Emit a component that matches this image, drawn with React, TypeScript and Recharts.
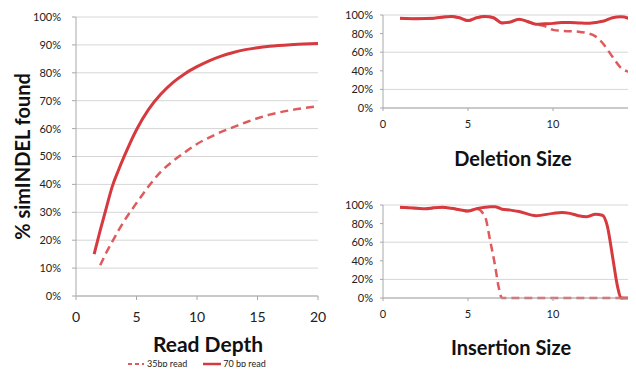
import React from 'react';
import { LineChart, Line, XAxis, YAxis, CartesianGrid, Legend } from 'recharts';

const seriesNames = ['35bp read', '70 bp read'];

const depthX = [1.5, 2, 2.5, 3, 3.5, 4, 5, 6, 7, 8, 9, 10, 11, 12, 13, 14, 15, 16, 18, 20];
const depth35 = [null, 11, 15.5, 19.5, 23.4, 27, 33.3, 39.3, 44.5, 48.3, 51.5, 54.5, 56.8, 58.8, 60.5, 62.2, 63.7, 65, 66.8, 68];
const depth70 = [15, 23.5, 31.5, 39.3, 45, 50.2, 59.6, 66.9, 72.3, 76.5, 79.7, 82.2, 84.3, 86, 87.3, 88.3, 89, 89.5, 90.1, 90.5];

const delX = [1, 2, 3, 4, 4.5, 5, 5.5, 6, 6.5, 7, 7.5, 8, 8.5, 9, 9.5, 10, 10.5, 11, 11.5, 12, 12.5, 13, 13.5, 14, 14.5, 15, 15.5, 16];
const del70 = [96.5, 96, 96.5, 98.5, 97, 94, 97, 98.5, 97, 91.5, 92.5, 95.5, 93, 90, 90.5, 91, 92, 92, 91.5, 91, 92, 93.5, 97, 98, 96, 91, 88, 87];
const del35 = [96.5, 96, 96.5, 98.5, 97, 94, 97, 98.5, 97, 91.5, 92.5, 95.5, 93, 90, 88, 84, 83, 82.5, 82, 80.5, 77, 68, 55, 43, 38.5, 34, 31, 29];

const insX = [1, 2, 2.5, 3, 3.5, 4, 4.5, 5, 5.5, 6, 6.3, 6.6, 6.8, 7, 7.5, 8, 9, 10, 10.5, 11, 11.5, 12, 12.5, 12.9, 13.2, 13.5, 13.8, 14, 15, 16];
const ins70 = [97.5, 96.5, 96, 97, 97.5, 96.5, 95, 93.5, 96, 97.5, 98, 98, 97, 95.5, 94.5, 93, 88.5, 91, 92, 91, 88.5, 87.5, 90, 89, 77, 45, 12, 0, 0, 0];
const ins35 = [97.5, 96.5, 96, 97, 97.5, 96.5, 95, 93.5, 96, 87.5, 62, 34, 12, 0, 0, 0, 0, 0, 0, 0, 0, 0, 0, 0, 0, 0, 0, 0, 0, 0];

const leftYTicks = [0, 10, 20, 30, 40, 50, 60, 70, 80, 90, 100];
const rightYTicks = [0, 20, 40, 60, 80, 100];
const xTicks = [0, 5, 10, 15, 20];

const build = (xs: number[], a: (number | null)[], b: (number | null)[]) =>
  xs.map((x, i) => ({ x, s35: a[i], s70: b[i] }));

const depthData = build(depthX, depth35, depth70);
const delData = build(delX, del35, del70);
const insData = build(insX, ins35, ins70);

const RED = '#d63a3e';
const RED_LIGHT = '#df5a5c';
const AXIS = '#a8a8a8';
const GRID = '#d6d6d6';
const FONT = 'Lato, "Open Sans", sans-serif';

const pct = (v: number) => `${v}%`;

const titleLabel = (text: string, dx: number, baseline: number, size: number) => (props: any) => {
  const vb = props.viewBox || {};
  return (
    <text x={vb.x + dx} y={baseline} textAnchor="middle" fontFamily={FONT} fontWeight={700} fontSize={size} fill="#111">
      {text}
    </text>
  );
};

const LegendContent = () => (
  <div style={{ display: 'flex', alignItems: 'center', fontFamily: FONT, fontSize: 9, lineHeight: '11px', height: 11, color: '#222', whiteSpace: 'nowrap' }}>
    <svg width={17} height={6}>
      <line x1={0} y1={3} x2={16} y2={3} stroke={RED_LIGHT} strokeWidth={2} strokeDasharray="4 3" />
    </svg>
    <span style={{ marginLeft: 2, marginRight: 16 }}>{seriesNames[0]}</span>
    <svg width={18} height={6}>
      <line x1={0} y1={3} x2={18} y2={3} stroke={RED} strokeWidth={2.5} />
    </svg>
    <span style={{ marginLeft: 2 }}>{seriesNames[1]}</span>
  </div>
);

export default function App() {
  return (
    <div style={{ position: 'relative', width: 636, height: 375, overflow: 'hidden', margin: -8, background: '#fff' }}>
      <div style={{ position: 'absolute', left: 0, top: 0 }}>
        <LineChart width={330} height={375} data={depthData} margin={{ top: 17, right: 12, bottom: 9, left: 0 }}>
          <CartesianGrid vertical={false} stroke={GRID} />
          <XAxis
            dataKey="x"
            type="number"
            domain={[0, 20]}
            ticks={xTicks}
            height={70}
            stroke={AXIS}
            tickSize={4}
            tickMargin={12}
            tick={{ fontSize: 14, fill: '#222', fontFamily: FONT }}
            label={{ content: titleLabel('Read Depth', 132, 352, 21) }}
          />
          <YAxis
            type="number"
            domain={[0, 100]}
            ticks={leftYTicks}
            width={76}
            stroke={AXIS}
            tickSize={4}
            tickMargin={11}
            tickFormatter={pct}
            tick={{ fontSize: 11, fill: '#222', fontFamily: FONT }}
            label={{
              content: (p: any) => {
                const vb = p.viewBox || {};
                const cy = vb.y + vb.height / 2;
                return (
                  <text x={22} y={cy} transform={`rotate(-90 22 ${cy})`} textAnchor="middle" dominantBaseline="central" fontFamily={FONT} fontWeight={700} fontSize={20} fill="#111">
                    % simINDEL found
                  </text>
                );
              },
            }}
          />
          <Legend layout="horizontal" verticalAlign="middle" align="center" content={LegendContent} wrapperStyle={{ position: 'absolute', top: 358, left: 128, width: 200, height: 11 }} />
          <Line dataKey="s35" name={seriesNames[0]} type="monotone" stroke={RED_LIGHT} strokeWidth={2.5} strokeDasharray="8 5" dot={false} isAnimationActive={false} connectNulls />
          <Line dataKey="s70" name={seriesNames[1]} type="monotone" stroke={RED} strokeWidth={3} dot={false} isAnimationActive={false} />
        </LineChart>
      </div>

      <div style={{ position: 'absolute', left: 330, top: 0 }}>
        <LineChart width={403} height={180} data={delData} margin={{ top: 15, right: 10, bottom: 10, left: 0 }}>
          <CartesianGrid vertical={false} stroke={GRID} />
          <XAxis
            dataKey="x"
            type="number"
            domain={[0, 20]}
            ticks={xTicks}
            height={62}
            stroke={AXIS}
            tickSize={3}
            tickMargin={9}
            tick={{ fontSize: 11, fill: '#222', fontFamily: FONT }}
            label={{ content: titleLabel('Deletion Size', 130, 166, 20) }}
          />
          <YAxis type="number" domain={[0, 100]} ticks={rightYTicks} width={53} stroke={AXIS} tickSize={3} tickMargin={7} tickFormatter={pct} tick={{ fontSize: 11, fill: '#222', fontFamily: FONT }} />
          <Line dataKey="s35" type="monotone" stroke={RED_LIGHT} strokeWidth={2.5} strokeDasharray="8 5" dot={false} isAnimationActive={false} />
          <Line dataKey="s70" type="monotone" stroke={RED} strokeWidth={3} dot={false} isAnimationActive={false} />
        </LineChart>
      </div>

      <div style={{ position: 'absolute', left: 330, top: 180 }}>
        <LineChart width={403} height={195} data={insData} margin={{ top: 25, right: 10, bottom: 10, left: 0 }}>
          <CartesianGrid vertical={false} stroke={GRID} />
          <XAxis
            dataKey="x"
            type="number"
            domain={[0, 20]}
            ticks={xTicks}
            height={67}
            stroke={AXIS}
            tickSize={3}
            tickMargin={9}
            tick={{ fontSize: 11, fill: '#222', fontFamily: FONT }}
            label={{ content: titleLabel('Insertion Size', 128, 175, 20) }}
          />
          <YAxis type="number" domain={[0, 100]} ticks={rightYTicks} width={53} stroke={AXIS} tickSize={3} tickMargin={7} tickFormatter={pct} tick={{ fontSize: 11, fill: '#222', fontFamily: FONT }} />
          <Line dataKey="s35" type="monotone" stroke={RED_LIGHT} strokeWidth={2.5} strokeDasharray="8 5" dot={false} isAnimationActive={false} />
          <Line dataKey="s70" type="monotone" stroke={RED} strokeWidth={3} dot={false} isAnimationActive={false} />
        </LineChart>
      </div>
    </div>
  );
}
